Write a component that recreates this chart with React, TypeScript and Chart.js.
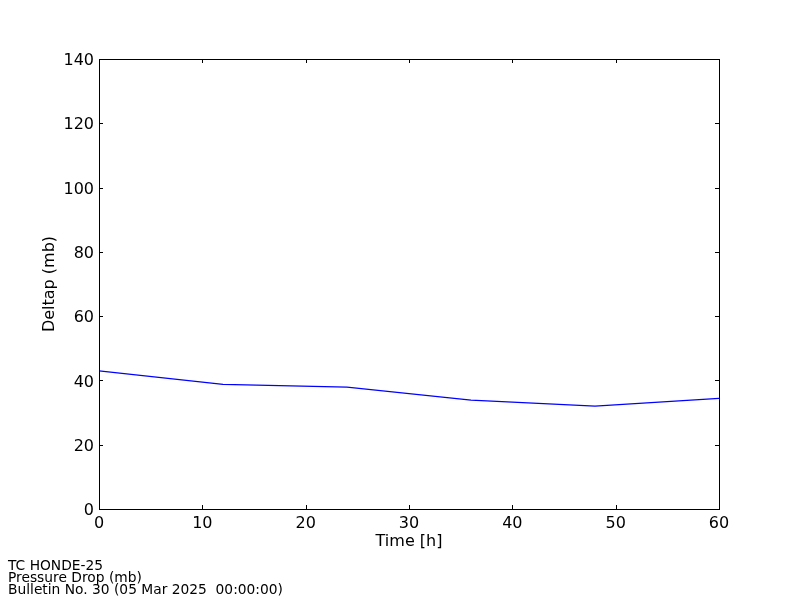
import React, { useEffect, useRef } from "react";
import { Chart, registerables } from "chart.js";

Chart.register(...registerables);

const hours = [0, 12, 24, 36, 48, 60];
const deltap = [43.0, 38.8, 37.9, 33.9, 32.0, 34.4];
const xTicks = [0, 10, 20, 30, 40, 50, 60];
const yTicks = [0, 20, 40, 60, 80, 100, 120, 140];
const footerLines = ["TC HONDE-25", "Pressure Drop (mb)", "Bulletin No. 30 (05 Mar 2025  00:00:00)"];

const FONT = "'DejaVu Sans', sans-serif";

const framePlugin = {
  id: "frameTicks",
  afterDraw(chart: any) {
    const { ctx, chartArea, scales } = chart;
    const { left, right, top, bottom } = chartArea;
    ctx.save();
    ctx.strokeStyle = "#000";
    ctx.lineWidth = 1;
    ctx.beginPath();
    const len = 4;
    for (const v of xTicks) {
      const x = Math.round(scales.x.getPixelForValue(v)) + 0.5;
      ctx.moveTo(x, bottom);
      ctx.lineTo(x, bottom - len);
      ctx.moveTo(x, top);
      ctx.lineTo(x, top + len);
    }
    for (const v of yTicks) {
      const y = Math.round(scales.y.getPixelForValue(v)) + 0.5;
      ctx.moveTo(left, y);
      ctx.lineTo(left + len, y);
      ctx.moveTo(right, y);
      ctx.lineTo(right - len, y);
    }
    ctx.stroke();
    ctx.strokeRect(Math.round(left) + 0.5, Math.round(top) + 0.5, Math.round(right - left), Math.round(bottom - top));
    ctx.restore();
  },
};

export default function App() {
  const ref = useRef<HTMLCanvasElement>(null);
  useEffect(() => {
    if (!ref.current) return;
    const chart = new Chart(ref.current, {
      type: "line",
      data: {
        datasets: [
          {
            data: hours.map((h, i) => ({ x: h, y: deltap[i] })),
            borderColor: "#0000ff",
            borderWidth: 1.2,
            pointRadius: 0,
            fill: false,
            tension: 0,
          },
        ],
      },
      options: {
        animation: false,
        responsive: false,
        maintainAspectRatio: false,
        layout: { padding: { left: 0, right: 81, top: 59, bottom: 41 } },
        plugins: { legend: { display: false }, tooltip: { enabled: false } },
        scales: {
          x: {
            type: "linear",
            min: 0,
            max: 60,
            afterBuildTicks: (s: any) => {
              s.ticks = xTicks.map((v) => ({ value: v }));
            },
            afterFit: (s: any) => {
              s.height = 50;
            },
            grid: { display: false, drawTicks: false, tickLength: 0 },
            border: { display: false },
            ticks: { color: "#000", font: { family: FONT, size: 16 }, padding: 5, maxRotation: 0 },
            title: {
              display: true,
              text: "Time [h]",
              color: "#000",
              font: { family: FONT, size: 16 },
              padding: { top: 0, bottom: 8 },
            },
          },
          y: {
            type: "linear",
            min: 0,
            max: 140,
            afterBuildTicks: (s: any) => {
              s.ticks = yTicks.map((v) => ({ value: v }));
            },
            afterFit: (s: any) => {
              s.width = 99;
            },
            grid: { display: false, drawTicks: false, tickLength: 0 },
            border: { display: false },
            ticks: { color: "#000", font: { family: FONT, size: 16 }, padding: 5, labelOffset: 2 },
            title: {
              display: true,
              text: "Deltap (mb)",
              color: "#000",
              font: { family: FONT, size: 16 },
              padding: { top: 40, bottom: 0 },
            },
          },
        },
      },
      plugins: [framePlugin],
    } as any);
    return () => chart.destroy();
  }, []);

  return (
    <div style={{ position: "fixed", left: 0, top: 0, width: 800, height: 600, background: "#fff" }}>
      <canvas ref={ref} width={800} height={600} style={{ position: "absolute", left: 0, top: 0, width: 800, height: 600 }} />
      {footerLines.map((t, i) => (
        <div
          key={i}
          style={{
            position: "absolute",
            left: 8,
            top: 558 + i * 12,
            fontFamily: FONT,
            fontSize: 13.8,
            lineHeight: "14px",
            color: "#000",
            whiteSpace: "pre",
          }}
        >
          {t}
        </div>
      ))}
    </div>
  );
}
